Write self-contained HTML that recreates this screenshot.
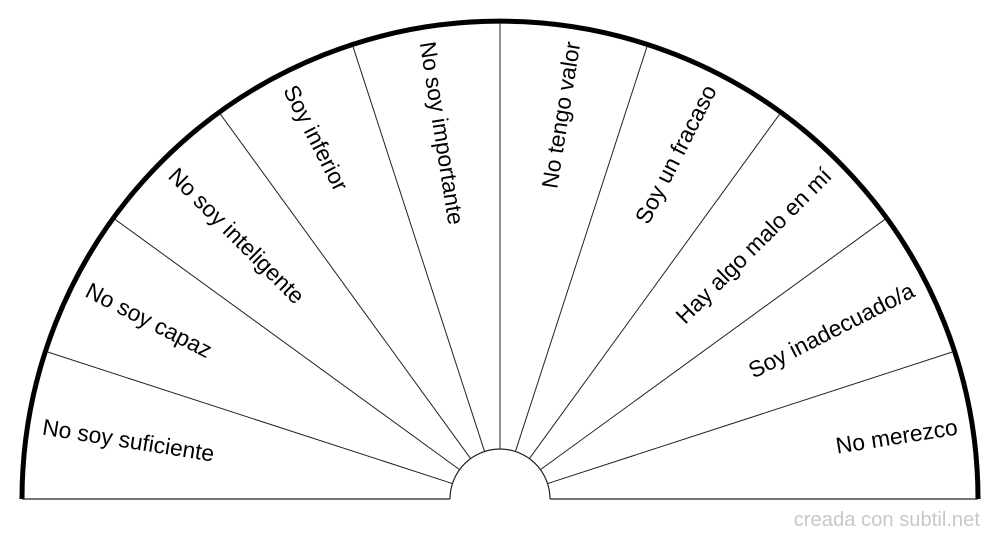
<!DOCTYPE html>
<html><head><meta charset="utf-8"><style>
html,body{margin:0;padding:0;background:#fff;width:1000px;height:540px;overflow:hidden}
</style></head><body>
<svg id="s" width="1000" height="540" xmlns="http://www.w3.org/2000/svg" font-family="Liberation Sans, sans-serif">
<g id="g" stroke="#222" fill="none"></g>
<text x="980" y="526" text-anchor="end" font-size="20.2" fill="#c8c8c8">creada con subtil.net</text>
</svg>
<script>
var cx=500,cy=499,R=478,r=50,ns="http://www.w3.org/2000/svg",s=document.getElementById('s'),g=document.getElementById('g');
function el(t,a,p){var e=document.createElementNS(ns,t);for(var k in a)e.setAttribute(k,a[k]);(p||s).appendChild(e);return e;}
el('path',{d:'M'+(cx-R)+' '+cy+' A'+R+' '+R+' 0 0 1 '+(cx+R)+' '+cy,'stroke-width':5,stroke:'#000'},g);
el('path',{d:'M'+(cx-r)+' '+cy+' A'+r+' '+r+' 0 0 1 '+(cx+r)+' '+cy,'stroke-width':1.2},g);
el('line',{x1:cx-R,y1:cy,x2:cx-r,y2:cy,'stroke-width':1.2},g);
el('line',{x1:cx+r,y1:cy,x2:cx+R,y2:cy,'stroke-width':1.2},g);
for(var i=1;i<10;i++){var a=i*18*Math.PI/180,c=Math.cos(a),n=Math.sin(a);
el('line',{x1:cx-r*c,y1:cy-r*n,x2:cx-(R-2)*c,y2:cy-(R-2)*n,'stroke-width':1},g);}
var L=["No soy suficiente","No soy capaz","No soy inteligente","Soy inferior","No soy importante","No tengo valor","Soy un fracaso","Hay algo malo en mí","Soy inadecuado/a","No merezco"];
for(var i=0;i<10;i++){var d=9+18*i,a=d*Math.PI/180,rr=463,px=cx-rr*Math.cos(a),py=cy-rr*Math.sin(a);
var left=i<5;
var t=el('text',{x:px,y:py,dy:'0.35em','font-size':22.8,fill:'#000','text-anchor':left?'start':'end',transform:'rotate('+(left?d:d-180)+' '+px+' '+py+')'});
t.textContent=L[i];}
</script>
</body></html>
